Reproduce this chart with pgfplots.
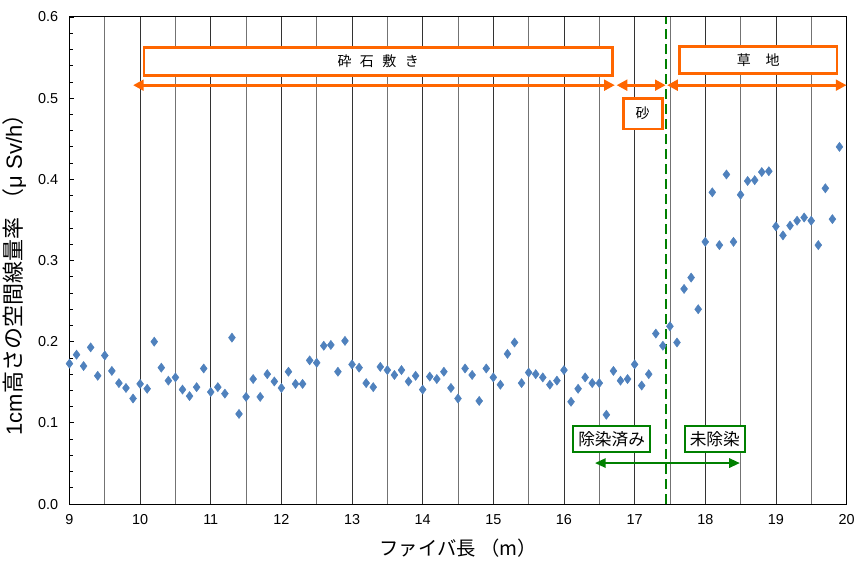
\documentclass[border=0pt]{standalone}
\usepackage{fontspec}
\setmainfont{Liberation Sans}
\newfontfamily\jp{Noto Sans CJK JP}
\usepackage{pgfplots}
\pgfplotsset{compat=1.18}
\usetikzlibrary{arrows.meta}
\definecolor{mk}{HTML}{4F81BD}
\definecolor{org}{HTML}{FF6600}
\definecolor{grn}{HTML}{008000}

\pgfplotstableread{
x y
9.0 0.173
9.1 0.184
9.2 0.170
9.3 0.193
9.4 0.158
9.5 0.183
9.6 0.164
9.7 0.149
9.8 0.143
9.9 0.130
10.0 0.148
10.1 0.142
10.2 0.200
10.3 0.168
10.4 0.152
10.5 0.156
10.6 0.141
10.7 0.133
10.8 0.144
10.9 0.167
11.0 0.138
11.1 0.144
11.2 0.136
11.3 0.205
11.4 0.111
11.5 0.132
11.6 0.154
11.7 0.132
11.8 0.160
11.9 0.151
12.0 0.143
12.1 0.163
12.2 0.148
12.3 0.148
12.4 0.177
12.5 0.174
12.6 0.195
12.7 0.196
12.8 0.163
12.9 0.201
13.0 0.172
13.1 0.168
13.2 0.149
13.3 0.144
13.4 0.169
13.5 0.165
13.6 0.159
13.7 0.165
13.8 0.151
13.9 0.158
14.0 0.141
14.1 0.157
14.2 0.154
14.3 0.163
14.4 0.143
14.5 0.130
14.6 0.167
14.7 0.159
14.8 0.127
14.9 0.167
15.0 0.156
15.1 0.147
15.2 0.185
15.3 0.199
15.4 0.149
15.5 0.162
15.6 0.160
15.7 0.156
15.8 0.147
15.9 0.152
16.0 0.165
16.1 0.126
16.2 0.142
16.3 0.156
16.4 0.149
16.5 0.149
16.6 0.110
16.7 0.164
16.8 0.152
16.9 0.154
17.0 0.172
17.1 0.146
17.2 0.160
17.3 0.210
17.4 0.195
17.5 0.219
17.6 0.199
17.7 0.265
17.8 0.279
17.9 0.240
18.0 0.323
18.1 0.384
18.2 0.319
18.3 0.406
18.4 0.323
18.5 0.381
18.6 0.398
18.7 0.399
18.8 0.409
18.9 0.410
19.0 0.342
19.1 0.331
19.2 0.343
19.3 0.349
19.4 0.353
19.5 0.349
19.6 0.319
19.7 0.389
19.8 0.351
19.9 0.440
}\dose

\begin{document}
\begin{tikzpicture}
\begin{axis}[
  scale only axis,
  width=582.75pt, height=365.25pt,
  xmin=9, xmax=20, ymin=0, ymax=0.6,
  xtick={9,10,...,20},
  minor xtick={9.5,10.5,...,19.5},
  ytick={0,0.1,0.2,0.3,0.4,0.5,0.6},
  minor y tick num=4,
  xmajorgrids, xminorgrids,
  major grid style={black!80, line width=0.6pt},
  minor grid style={black!55, line width=0.6pt},
  axis line style={black, line width=0.75pt},
  x tick style={draw=none},
  ytick pos=left,
  tick align=inside,
  y tick style={black, line width=0.6pt},
  major tick length=3.5pt,
  minor tick length=2.3pt,
  /pgf/number format/assume math mode=true,
  tick label style={font=\fontsize{10.8}{12}\selectfont, black},
  yticklabel style={xshift=-5pt, /pgf/number format/.cd, fixed, fixed zerofill, precision=1},
  xticklabel style={yshift=-4pt},
  xlabel={\jp ファイバ長 （m）},
  ylabel={1cm{\jp 高さの空間線量率}\hspace{0.35em}{\jp （}μ Sv/h{\jp ）}},
  xlabel style={font=\fontsize{14.5}{16}\selectfont, at={(axis description cs:0.5,-0.09)}, anchor=center},
  ylabel style={font=\fontsize{16.5}{18}\selectfont, at={(axis description cs:-0.0705,0.482)}, anchor=center},
  clip=false,
]
\addplot[only marks, mark=diamond*, mark size=3.4pt, mk, mark options={fill=mk, draw=mk}] table[x=x, y=y] {\dose};

% green dashed boundary
\draw[grn, line width=1.5pt, dash pattern=on 7.5pt off 3.75pt] (axis cs:17.45,0) -- (axis cs:17.45,0.6);

% orange annotations
\draw[org, line width=2.2pt, fill=white] (axis cs:10.055,0.528) rectangle (axis cs:16.69,0.563);
\node[font=\jp\fontsize{10.5}{12}\selectfont] at (axis cs:13.37,0.5455) {砕\hspace{0.6em}石\hspace{0.6em}敷\hspace{0.6em}き};
\draw[org, line width=2.2pt, {Triangle[length=8pt,width=8pt]}-{Triangle[length=8pt,width=8pt]}] (axis cs:9.9,0.516) -- (axis cs:16.72,0.516);
\draw[org, line width=2.2pt, {Triangle[length=8pt,width=8pt]}-{Triangle[length=8pt,width=8pt]}] (axis cs:16.745,0.516) -- (axis cs:17.44,0.516);
\draw[org, line width=2.2pt, {Triangle[length=8pt,width=8pt]}-{Triangle[length=8pt,width=8pt]}] (axis cs:17.46,0.516) -- (axis cs:20.0,0.516);
\draw[org, line width=2.2pt, fill=white] (axis cs:16.84,0.462) rectangle (axis cs:17.39,0.500);
\node[font=\jp\fontsize{10.5}{12}\selectfont] at (axis cs:17.115,0.481) {砂};
\draw[org, line width=2.2pt, fill=white] (axis cs:17.63,0.530) rectangle (axis cs:19.865,0.564);
\node[font=\jp\fontsize{10.5}{12}\selectfont] at (axis cs:18.75,0.547) {草\hspace{1.05em}地};

% green annotations
\draw[grn, line width=1.3pt, fill=white] (axis cs:16.13,0.064) rectangle (axis cs:17.22,0.096);
\node[font=\jp\fontsize{12.5}{14}\selectfont] at (axis cs:16.675,0.080) {除染済み};
\draw[grn, line width=1.3pt, fill=white] (axis cs:17.71,0.064) rectangle (axis cs:18.56,0.096);
\node[font=\jp\fontsize{12.5}{14}\selectfont] at (axis cs:18.135,0.080) {未除染};
\draw[grn, line width=1.5pt, {Triangle[length=8pt,width=7pt]}-{Triangle[length=8pt,width=7pt]}] (axis cs:16.44,0.0505) -- (axis cs:18.49,0.0505);

\coordinate (sw) at (rel axis cs:0,0);
\coordinate (ne) at (rel axis cs:1,1);
\end{axis}
\path (sw) ++(-52.1pt,-42.75pt) coordinate (a);
\path (ne) ++(8.6pt,12.75pt) coordinate (b);
\pgfresetboundingbox
\path (a) rectangle (b);
\end{tikzpicture}
\end{document}
